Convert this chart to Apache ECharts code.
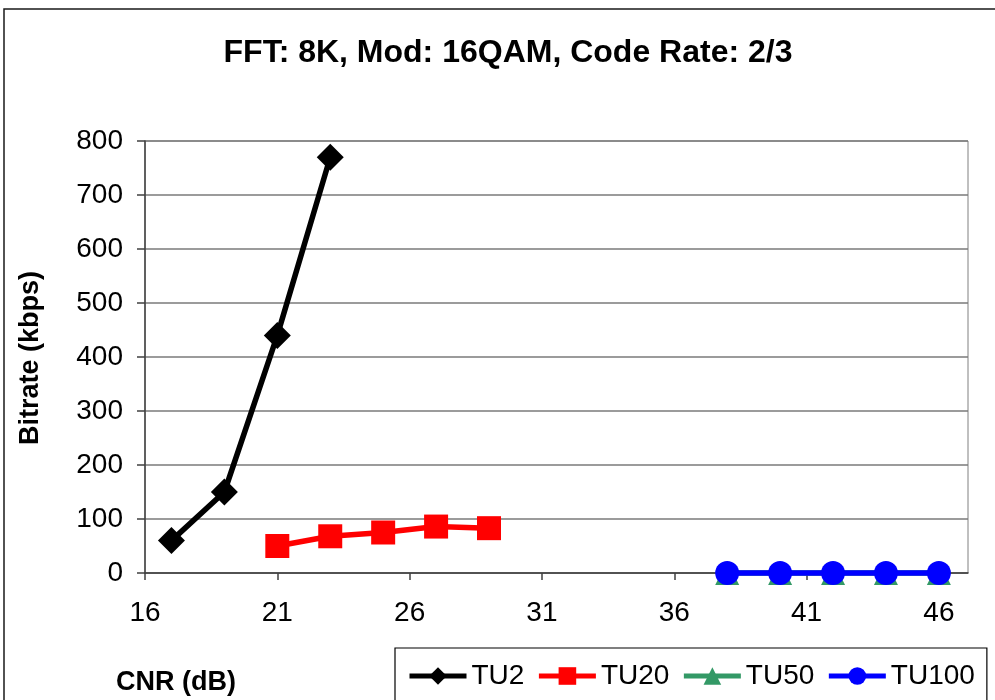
<!DOCTYPE html>
<html>
<head>
<meta charset="utf-8">
<title>FFT: 8K, Mod: 16QAM, Code Rate: 2/3</title>
<script src="https://cdn.jsdelivr.net/npm/echarts@6/dist/echarts.min.js"></script>
<style>
  html, body { margin: 0; padding: 0; background: #fff; }
  #chart { width: 995px; height: 700px; }
</style>
</head>
<body>
<div id="chart"></div>
<script>
// CNR (dB) values and measured bitrates (kbps) for each channel profile
const tu2Cnr = [17, 19, 21, 23];
const tu2Rate = [60, 150, 440, 770];

const tu20Cnr = [21, 23, 25, 27, 29];
const tu20Rate = [50, 68, 75, 86, 83];

const tu50Cnr = [38, 40, 42, 44, 46];
const tu50Rate = [0, 0, 0, 0, 0];

const tu100Cnr = [38, 40, 42, 44, 46];
const tu100Rate = [0, 0, 0, 0, 0];

// Axis tick labels
const xTicks = [16, 21, 26, 31, 36, 41, 46];
const yTicks = [0, 100, 200, 300, 400, 500, 600, 700, 800];

const titleText = 'FFT: 8K, Mod: 16QAM, Code Rate: 2/3';
const xTitle = 'CNR (dB)';
const yTitle = 'Bitrate (kbps)';

const FONT = '"Liberation Sans", Arial, sans-serif';

function pairs(xs, ys) {
  return xs.map((x, i) => [x, ys[i]]);
}

const chart = echarts.init(document.getElementById('chart'), null, { renderer: 'canvas' });

const lineSeries = (name, xs, ys, color, symbol, size) => ({
  name: name,
  type: 'line',
  data: pairs(xs, ys),
  symbol: symbol,
  symbolSize: size,
  showAllSymbol: true,
  clip: false,
  animation: false,
  lineStyle: { color: color, width: 5.5 },
  itemStyle: { color: color, borderWidth: 0 },
  emphasis: { disabled: true }
});

chart.setOption({
  animation: false,
  backgroundColor: '#ffffff',
  grid: {
    left: 145, right: 27, top: 141, bottom: 127,
    show: true,
    borderColor: '#808080',
    borderWidth: 1,
    containLabel: false
  },
  xAxis: {
    type: 'value',
    min: 16,
    max: 47.1,
    axisLine: { show: true, onZero: false, lineStyle: { color: '#404040', width: 1.5 } },
    axisTick: {
      show: true, inside: false, length: 7,
      customValues: xTicks,
      lineStyle: { color: '#404040', width: 1.5 }
    },
    axisLabel: {
      customValues: xTicks,
      margin: 26,
      color: '#000',
      fontFamily: FONT,
      fontSize: 28
    },
    splitLine: { show: false }
  },
  yAxis: {
    type: 'value',
    min: yTicks[0],
    max: yTicks[yTicks.length - 1],
    interval: 100,
    axisLine: { show: true, lineStyle: { color: '#404040', width: 1.5 } },
    axisTick: { show: true, inside: false, length: 8, lineStyle: { color: '#404040', width: 1.5 } },
    axisLabel: {
      margin: 22,
      color: '#000',
      fontFamily: FONT,
      fontSize: 28
    },
    splitLine: { show: true, lineStyle: { color: '#7a7a7a', width: 1.5 } }
  },
  legend: {
    orient: 'horizontal',
    left: 395,
    top: 648,
    width: 620,
    padding: [14, 12, 40, 12],
    itemWidth: 57,
    itemHeight: 22,
    itemGap: 12,
    borderColor: '#000',
    borderWidth: 1.2,
    backgroundColor: '#fff',
    selectedMode: false,
    lineStyle: { width: 5 },
    textStyle: { color: '#000', fontFamily: FONT, fontSize: 28 },
    data: ['TU2', 'TU20', 'TU50', 'TU100']
  },
  graphic: [
    {
      type: 'rect',
      shape: { x: 4, y: 9, width: 1200, height: 1000 },
      style: { fill: 'none', stroke: '#1a1a1a', lineWidth: 1.5 },
      silent: true,
      z: -10
    },
    {
      type: 'text',
      x: 508, y: 53,
      style: {
        text: titleText,
        fill: '#000',
        font: 'bold 32px ' + FONT,
        align: 'center',
        verticalAlign: 'middle'
      }
    },
    {
      type: 'text',
      x: 31, y: 358,
      rotation: Math.PI / 2,
      style: {
        text: yTitle,
        fill: '#000',
        font: 'bold 27px ' + FONT,
        align: 'center',
        verticalAlign: 'middle'
      }
    },
    {
      type: 'text',
      x: 176, y: 683,
      style: {
        text: xTitle,
        fill: '#000',
        font: 'bold 27px ' + FONT,
        align: 'center',
        verticalAlign: 'middle'
      }
    }
  ],
  series: [
    lineSeries('TU2', tu2Cnr, tu2Rate, '#000000', 'diamond', 27),
    lineSeries('TU20', tu20Cnr, tu20Rate, '#ff0000', 'rect', 24),
    lineSeries('TU50', tu50Cnr, tu50Rate, '#339966', 'triangle', 24),
    lineSeries('TU100', tu100Cnr, tu100Rate, '#0000ff', 'circle', 24)
  ]
});
</script>
</body>
</html>
